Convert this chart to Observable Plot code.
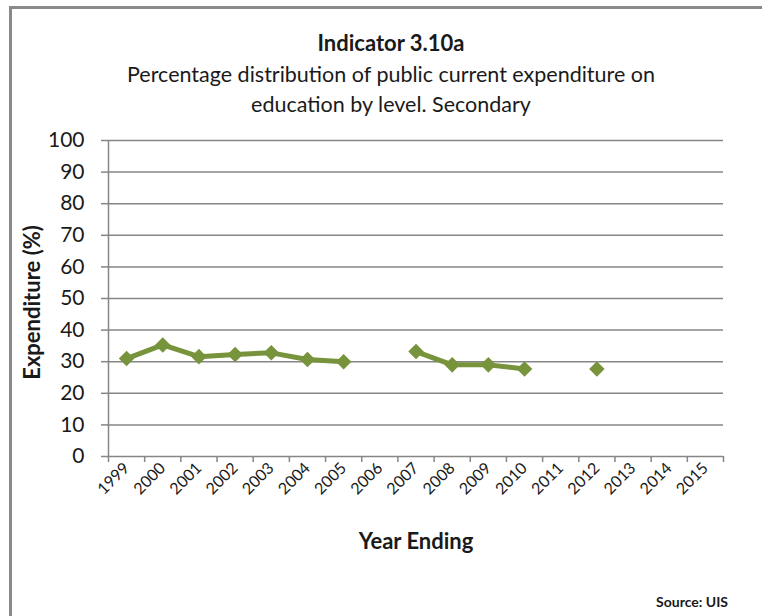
<!DOCTYPE html>
<html>
<head>
<meta charset="utf-8">
<script src="https://cdn.jsdelivr.net/npm/d3@7"></script>
<script src="https://cdn.jsdelivr.net/npm/@observablehq/plot@0.6"></script>
<style>
  html, body { margin: 0; padding: 0; background: #fff; }
  body { width: 762px; height: 616px; position: relative; overflow: hidden; font-family: Lato, "Open Sans", sans-serif; color: #1a1a1a; }
  #frame { position: absolute; left: 9px; top: 6px; width: 800px; height: 700px; border-left: 3px solid #8a8a8a; border-top: 3px solid #8a8a8a; }
  .t { position: absolute; left: 0; width: 782px; text-align: center; }
  #title { top: 29px; font-size: 22px; font-weight: bold; }
  #sub1 { top: 61px; font-size: 21.5px; }
  #sub2 { top: 91px; font-size: 21.5px; }
  #chart { position: absolute; left: 0; top: 120px; }
  #source { position: absolute; right: 34px; top: 593px; font-size: 14px; font-weight: bold; }
</style>
</head>
<body>
<div id="frame"></div>
<div class="t" id="title">Indicator 3.10a</div>
<div class="t" id="sub1">Percentage distribution of public current expenditure on</div>
<div class="t" id="sub2">education by level. Secondary</div>
<div id="chart"></div>
<div id="source">Source: UIS</div>
<script>
const years = ["1999","2000","2001","2002","2003","2004","2005","2006","2007","2008","2009","2010","2011","2012","2013","2014","2015"];
const values = [31.0, 35.3, 31.6, 32.3, 32.8, 30.7, 30.0, null, 33.2, 29.0, 29.0, 27.7, null, 27.7, null, null, null];
const yTicks = [0, 10, 20, 30, 40, 50, 60, 70, 80, 90, 100];
const yLabel = "Expenditure (%)";
const xLabel = "Year Ending";

const data = years.map((y, i) => ({i, year: y, value: values[i]}));
const pos = d => d.i + 0.5;
const green = "#77933C";
const grey = "#868686";

const chart = Plot.plot({
  width: 762,
  height: 440,
  marginLeft: 108,
  marginRight: 39,
  marginTop: 20,
  marginBottom: 104,
  style: {fontFamily: "Lato, 'Open Sans', sans-serif", color: "#1a1a1a", background: "transparent"},
  x: {type: "linear", domain: [0, years.length], axis: null},
  y: {domain: [0, 100], axis: null},
  marks: [
    Plot.gridY(yTicks, {stroke: grey, strokeOpacity: 1, strokeWidth: 1.5}),
    Plot.ruleX([0], {stroke: grey, strokeWidth: 1.5}),
    Plot.axisY({ticks: yTicks, tickSize: 7, tickPadding: 17, fontSize: 21, stroke: grey, strokeWidth: 1.5, label: null}),
    Plot.axisX({ticks: d3.range(years.length + 1), tickFormat: () => "", tickSize: 6, stroke: grey, strokeWidth: 1.5, label: null}),
    Plot.axisX({ticks: data.map(pos), tickFormat: v => years[Math.floor(v)], tickSize: 0, tickPadding: 9, tickRotate: -45, fontSize: 16, label: null}),
    Plot.lineY(data, {x: pos, y: "value", stroke: green, strokeWidth: 5, strokeLinejoin: "round"}),
    Plot.dot(data.filter(d => d.value != null), {x: pos, y: "value", symbol: "diamond2", r: 7, fill: green, stroke: "none"}),
    Plot.text([xLabel], {frameAnchor: "bottom", dy: 92, fontSize: 22, fontWeight: "bold"}),
    Plot.text([yLabel], {frameAnchor: "left", textAnchor: "middle", rotate: -90, dx: -76, dy: 4, fontSize: 22, fontWeight: "bold"})
  ]
});
document.getElementById("chart").appendChild(chart);
</script>
</body>
</html>
